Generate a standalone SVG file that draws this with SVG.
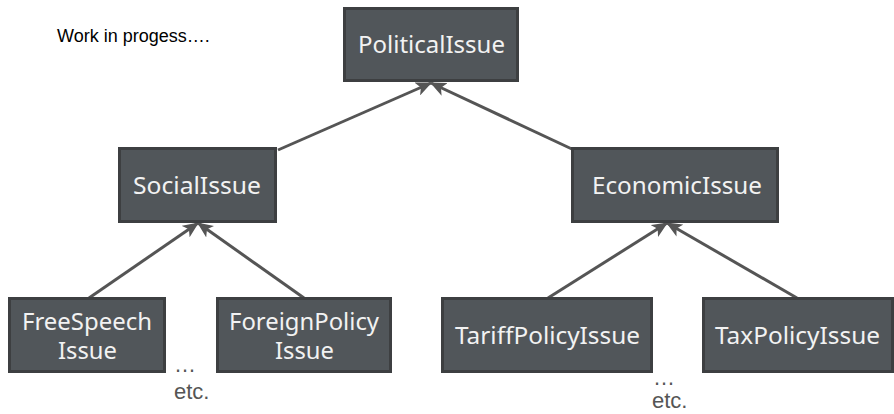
<svg xmlns="http://www.w3.org/2000/svg" width="894" height="414" viewBox="0 0 894 414">
<defs>
<style>
.box{fill:#51565a;stroke:#3d3f41;stroke-width:3}
.lbl{font-family:"Noto Sans","Open Sans",sans-serif;font-size:23px;fill:#f2f2f2;text-anchor:middle}
.conn{stroke:#555555;stroke-width:3;fill:none}
.note{font-family:"Liberation Sans",Arial,sans-serif;fill:#555555;font-size:22px}
</style>
<marker id="ah" markerWidth="16" markerHeight="14" refX="15" refY="7" orient="auto" markerUnits="userSpaceOnUse">
<path d="M0,0 L16,7 L0,14 L4,7 Z" fill="#555555"/>
</marker>
</defs>
<rect width="894" height="414" fill="#ffffff"/>
<text x="57" y="42" font-family="Liberation Sans, Arial, sans-serif" font-size="18" fill="#000">Work in progess….</text>
<g id="connectors">
<line class="conn" x1="278" y1="150" x2="431" y2="83" marker-end="url(#ah)"/>
<line class="conn" x1="574" y1="150" x2="431" y2="83" marker-end="url(#ah)"/>
<line class="conn" x1="89" y1="298" x2="198" y2="223" marker-end="url(#ah)"/>
<line class="conn" x1="304" y1="298" x2="198" y2="223" marker-end="url(#ah)"/>
<line class="conn" x1="548" y1="298" x2="667" y2="223" marker-end="url(#ah)"/>
<line class="conn" x1="797" y1="298" x2="667" y2="223" marker-end="url(#ah)"/>
</g>
<g id="PoliticalIssue"><rect class="box" x="344.5" y="8.5" width="173" height="72"/><text class="lbl" x="431.5" y="53" textLength="147" lengthAdjust="spacingAndGlyphs">PoliticalIssue</text></g>
<g id="SocialIssue"><rect class="box" x="119.5" y="148.5" width="156" height="73"/><text class="lbl" x="197" y="194" textLength="128" lengthAdjust="spacingAndGlyphs">SocialIssue</text></g>
<g id="EconomicIssue"><rect class="box" x="572.5" y="148.5" width="205" height="73"/><text class="lbl" x="677" y="194" textLength="170" lengthAdjust="spacingAndGlyphs">EconomicIssue</text></g>
<g id="FreeSpeechIssue"><rect class="box" x="9.5" y="298.5" width="155" height="73"/><text class="lbl" x="87" y="330" textLength="130" lengthAdjust="spacingAndGlyphs">FreeSpeech</text><text class="lbl" x="87.5" y="359" textLength="59" lengthAdjust="spacingAndGlyphs">Issue</text></g>
<g id="ForeignPolicyIssue"><rect class="box" x="217.5" y="298.5" width="173" height="73"/><text class="lbl" x="304" y="330" textLength="150" lengthAdjust="spacingAndGlyphs">ForeignPolicy</text><text class="lbl" x="304.5" y="359" textLength="59" lengthAdjust="spacingAndGlyphs">Issue</text></g>
<g id="TariffPolicyIssue"><rect class="box" x="442.5" y="298.5" width="209" height="73"/><text class="lbl" x="547.5" y="344" textLength="185" lengthAdjust="spacingAndGlyphs">TariffPolicyIssue</text></g>
<g id="TaxPolicyIssue"><rect class="box" x="703.5" y="298.5" width="189" height="73"/><text class="lbl" x="797.5" y="344" textLength="165" lengthAdjust="spacingAndGlyphs">TaxPolicyIssue</text></g>
<text class="note" x="174" y="372">…</text>
<text class="note" x="174" y="399">etc.</text>
<text class="note" x="653" y="385">…</text>
<text class="note" x="652" y="408">etc.</text>
</svg>
